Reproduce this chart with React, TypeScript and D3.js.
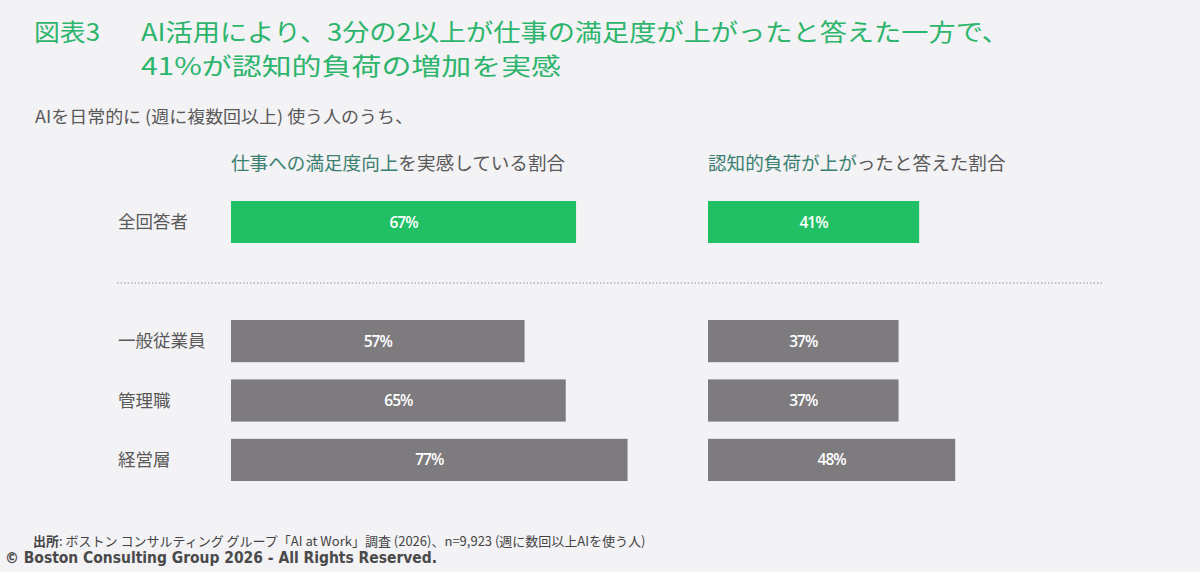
import { useMemo } from 'react';
import * as d3 from 'd3';

const titleLines = [
  'AI活用により、3分の2以上が仕事の満足度が上がったと答えた一方で、',
  '41%が認知的負荷の増加を実感',
];
const subtitle = 'AIを日常的に (週に複数回以上) 使う人のうち、';
const allLabel = ['全回答者'];
const roleLabels = ['一般従業員', '管理職', '経営層'];
const satisfactionAll = [67];
const satisfactionRoles = [57, 65, 77];
const loadAll = [41];
const loadRoles = [37, 37, 48];
const headers = [
  ['仕事への満足度向上', 'を実感している割合'],
  ['認知的負荷が上が', 'ったと答えた割合'],
];
const source = 'ボストン コンサルティング グループ「AI at Work」調査 (2026)、n=9,923 (週に数回以上AIを使う人)';
const copyright = '© Boston Consulting Group 2026 - All Rights Reserved.';

const W = 1200;
const H = 572;
const JP = '"Noto Sans CJK JP", "Noto Sans", sans-serif';
const GREEN = '#2db56c';
const BAR_GREEN = '#22c064';
const BAR_GRAY = '#7e7b7f';
const TEAL = '#3a8070';
const TEXT = '#595959';

export default function App() {
  const x = useMemo(() => d3.scaleLinear().domain([0, 100]).range([0, 515]), []);
  const yTop = useMemo(() => d3.scaleBand().domain(allLabel).range([201, 243]).padding(0), []);
  const yRoles = useMemo(
    () => d3.scaleBand().domain(roleLabels).range([320, 481]).paddingInner(0.29).paddingOuter(0),
    []
  );
  const panels = [
    { x0: 231, all: satisfactionAll, roles: satisfactionRoles, header: headers[0] },
    { x0: 708, all: loadAll, roles: loadRoles, header: headers[1] },
  ];

  const rows = [
    ...allLabel.map((l, i) => ({ label: l, y: yTop(l)!, h: yTop.bandwidth(), idx: i, top: true })),
    ...roleLabels.map((l, i) => ({ label: l, y: yRoles(l)!, h: yRoles.bandwidth(), idx: i, top: false })),
  ];

  return (
    <svg width={W} height={H} style={{ position: 'absolute', left: 0, top: 0, background: '#f3f2f5' }}>
      <rect width={W} height={H} fill="#f3f2f5" />
      {/* title */}
      <g fontFamily={JP} fill={GREEN} fontSize={24}>
        <text x={34} y={41} textLength={66} lengthAdjust="spacingAndGlyphs">図表3</text>
        <text x={141} y={41} textLength={868} lengthAdjust="spacingAndGlyphs">{titleLines[0]}</text>
        <text x={141} y={75} textLength={420} lengthAdjust="spacingAndGlyphs">{titleLines[1]}</text>
      </g>
      <text x={35} y={123} fontFamily={JP} fontSize={17} fill={TEXT} textLength={378} lengthAdjust="spacingAndGlyphs">
        {subtitle}
      </text>

      {/* column headers */}
      {panels.map((p, i) => (
        <text key={i} x={p.x0} y={170} fontFamily={JP} fontSize={18.6}>
          <tspan fill={TEAL}>{p.header[0]}</tspan>
          <tspan fill={TEXT}>{p.header[1]}</tspan>
        </text>
      ))}

      {/* row labels */}
      {rows.map(r => (
        <text key={r.label} x={118} y={r.y + r.h / 2} dy="0.35em" fontFamily={JP} fontSize={17.5} fill={TEXT}>
          {r.label}
        </text>
      ))}

      {/* bars */}
      {panels.map((p, pi) =>
        rows.map(r => {
          const v = r.top ? p.all[r.idx] : p.roles[r.idx];
          return (
            <g key={`${pi}-${r.label}`}>
              <rect x={p.x0} y={r.y} width={x(v)} height={r.h} fill={r.top ? BAR_GREEN : BAR_GRAY} />
              <text
                x={p.x0 + x(v) / 2}
                y={r.y + r.h / 2}
                dy="0.36em"
                textAnchor="middle"
                fontFamily='"Open Sans", sans-serif'
                fontSize={15.5}
                fontWeight={600}
                fill="#ffffff"
                letterSpacing={-1}
              >
                {v}%
              </text>
            </g>
          );
        })
      )}

      {/* separator */}
      <line x1={117} x2={1104} y1={283} y2={283} stroke="#b5b3b8" strokeWidth={1.5} strokeDasharray="1.5 2" />

      {/* footer */}
      <text x={33} y={546} fontFamily={JP} fontSize={13} fill="#444">
        <tspan fontWeight="bold">出所</tspan>
        <tspan>: {source}</tspan>
      </text>
      <text
        x={5}
        y={563}
        fontFamily='"DejaVu Sans Condensed", "DejaVu Sans", sans-serif'
        fontSize={16}
        fontWeight="bold"
        fill="#4a4a4a"
        textLength={432}
        lengthAdjust="spacingAndGlyphs"
      >
        {copyright}
      </text>
    </svg>
  );
}
